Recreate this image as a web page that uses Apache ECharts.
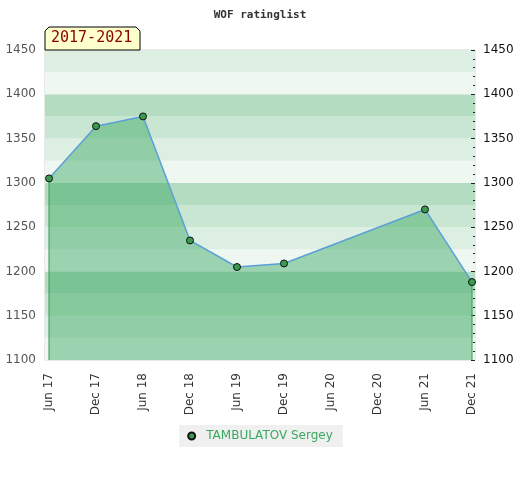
<!DOCTYPE html>
<html>
<head>
<meta charset="utf-8">
<script src="https://cdn.jsdelivr.net/npm/echarts@6/dist/echarts.min.js"></script>
<style>html,body{margin:0;padding:0;background:#fff}#c{width:520px;height:480px}</style>
</head>
<body>
<div id="c"></div>
<script>
const categories = ['Jun 17','Dec 17','Jun 18','Dec 18','Jun 19','Dec 19','Jun 20','Dec 20','Jun 21','Dec 21'];
const ratings = [1305, 1364, 1375, 1235, 1205, 1209, null, null, 1270, 1188];
const playerName = 'TAMBULATOV Sergey';
const chartTitle = 'WOF ratinglist';
const periodLabel = '2017-2021';
const yMin = 1100, yMax = 1450;

const firstIdx = 0, lastIdx = categories.length - 1;

const chart = echarts.init(document.getElementById('c'));
chart.setOption({
  animation: false,
  title: {
    text: chartTitle, left: 'center', top: 5,
    textStyle: { fontFamily: 'DejaVu Sans Mono', fontSize: 11, fontWeight: 'bold', color: '#333' }
  },
  graphic: [
    { type: 'polygon', z: 10,
      shape: { points: [[45,50],[45,31],[49,27],[136,27],[140,31],[140,50]] },
      style: { fill: '#ffffcc', stroke: '#000', lineWidth: 1 } },
    { type: 'text', z: 11, left: 51, top: 31,
      style: { text: periodLabel, fill: '#8b0000', font: '15px "DejaVu Sans Mono"' } }
  ],
  legend: {
    data: [{ name: playerName, icon: 'circle' }],
    bottom: 33, left: 'center',
    backgroundColor: '#f0f0f0', padding: [5, 10, 5, 8],
    itemWidth: 7, itemHeight: 7, itemGap: 10,
    textStyle: { color: '#3aa860', fontSize: 12, fontFamily: 'DejaVu Sans', padding: [0, 0, 0, 6] }
  },
  grid: [
    { left: 45, right: 45, top: 50, bottom: 120, show: true, borderColor: '#d5d5d5', borderWidth: 1 },
    { left: 49, right: 48, top: 50, bottom: 120 }
  ],
  xAxis: [
    { gridIndex: 0, type: 'value', min: 0, max: 1, show: false },
    { gridIndex: 1, type: 'category', data: categories, boundaryGap: false,
      axisLine: { show: false }, axisTick: { show: false },
      axisLabel: { rotate: 90, interval: 0, margin: 13, color: '#333', fontSize: 12, fontFamily: 'DejaVu Sans' } }
  ],
  yAxis: [
    { gridIndex: 0, type: 'value', min: yMin, max: yMax, interval: 25, position: 'left',
      axisLine: { show: false }, axisTick: { show: false }, splitLine: { show: false },
      splitArea: { show: true, areaStyle: { color: ['#eef7f0', '#dcefe2', '#c8e6d1', '#b3dcc0'] } },
      axisLabel: { margin: 9, color: '#555', fontSize: 12, fontFamily: 'DejaVu Sans',
        formatter: v => (v % 50 === 0 ? String(v) : '') } },
    { gridIndex: 0, type: 'value', min: yMin, max: yMax, interval: 50, position: 'right',
      axisLine: { show: false }, splitLine: { show: false },
      axisTick: { show: true, inside: true, length: 4, lineStyle: { color: '#222' } },
      minorTick: { show: true, splitNumber: 5, length: 2, lineStyle: { color: '#222' } },
      axisLabel: { margin: 8, color: '#111', fontSize: 12, fontFamily: 'DejaVu Sans',
        formatter: v => String(v) } },
    { gridIndex: 1, type: 'value', min: yMin, max: yMax, show: false }
  ],
  series: [
    { name: 'edgeL', type: 'line', xAxisIndex: 1, yAxisIndex: 2, silent: true, symbol: 'none',
      data: [[firstIdx, yMin], [firstIdx, ratings[firstIdx]]],
      lineStyle: { color: '#2f9a4c', width: 1 }, z: 3 },
    { name: 'edgeR', type: 'line', xAxisIndex: 1, yAxisIndex: 2, silent: true, symbol: 'none',
      data: [[lastIdx, yMin], [lastIdx, ratings[lastIdx]]],
      lineStyle: { color: '#2f9a4c', width: 1 }, z: 3 },
    { name: playerName, type: 'line', xAxisIndex: 1, yAxisIndex: 2, data: ratings,
      connectNulls: true, symbol: 'circle', symbolSize: 7,
      itemStyle: { color: '#3a9a50', borderColor: '#111', borderWidth: 1 },
      lineStyle: { color: '#5b9fd8', width: 1.5 },
      areaStyle: { color: 'rgb(49,165,90)', opacity: 0.44, origin: 'start' }, z: 4 }
  ]
});
</script>
</body>
</html>
